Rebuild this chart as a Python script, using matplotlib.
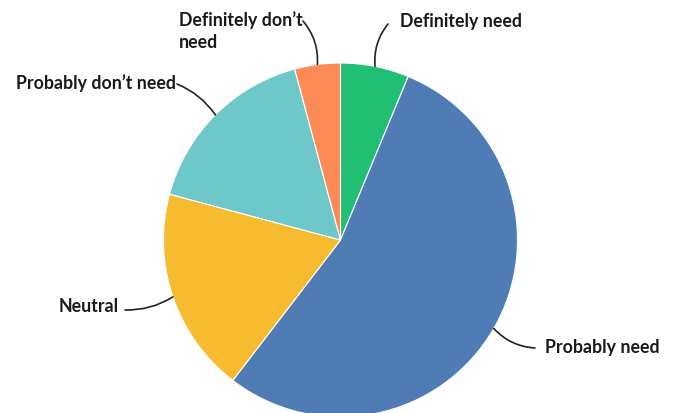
import numpy as np
import matplotlib
matplotlib.use('Agg')
import matplotlib.pyplot as plt

# survey answers (counts), clockwise from 12 o'clock
labels = ['Definitely need', 'Probably need', 'Neutral',
          "Probably don\u2019t need", "Definitely don\u2019t\nneed"]
counts = [3, 26, 9, 8, 2]
colors = ['#21BF73', '#507CB6', '#F6BB2F', '#6EC8CA', '#FC8B58']

W, H = 674, 413
fig = plt.figure(figsize=(W / 100, H / 100), dpi=100)
ax = fig.add_axes([0, 0, 1, 1])

center = (340.5, H - 240)
radius = 177
wedges, _ = ax.pie(counts, colors=colors, startangle=90, counterclock=False,
                   center=center, radius=radius, frame=True,
                   wedgeprops=dict(edgecolor='white', linewidth=0.8))
ax.set_xlim(0, W)
ax.set_ylim(0, H)
ax.set_aspect('equal')
ax.axis('off')

# label layout: (text x, text y from top, ha, line start x, line start y from top, rad)
layout = [
    (400, 22, 'left', 388, 24, 0.2),
    (545, 347, 'left', 535, 348, -0.2),
    (119, 307, 'right', 125, 310, 0.15),
    (176, 83, 'right', 177, 84, -0.15),
    (179, 31, 'left', 303, 21, -0.2),
]

for w, lab, (tx, ty, ha, sx, sy, rad) in zip(wedges, labels, layout):
    mid = np.deg2rad((w.theta1 + w.theta2) / 2)
    ex = center[0] + radius * np.cos(mid)
    ey = center[1] + radius * np.sin(mid)
    ax.annotate('', xy=(ex, ey), xytext=(sx, H - sy),
                arrowprops=dict(arrowstyle='-', color='#222222', lw=1.2,
                                shrinkA=0, shrinkB=0,
                                connectionstyle=f'arc3,rad={rad}'))
    ax.text(tx, H - ty, lab, ha=ha, va='center', fontsize=12.8,
            fontweight='bold', family='Lato', color='#1a1a1a',
            linespacing=1.3)

fig.savefig('out.png', dpi=100)
